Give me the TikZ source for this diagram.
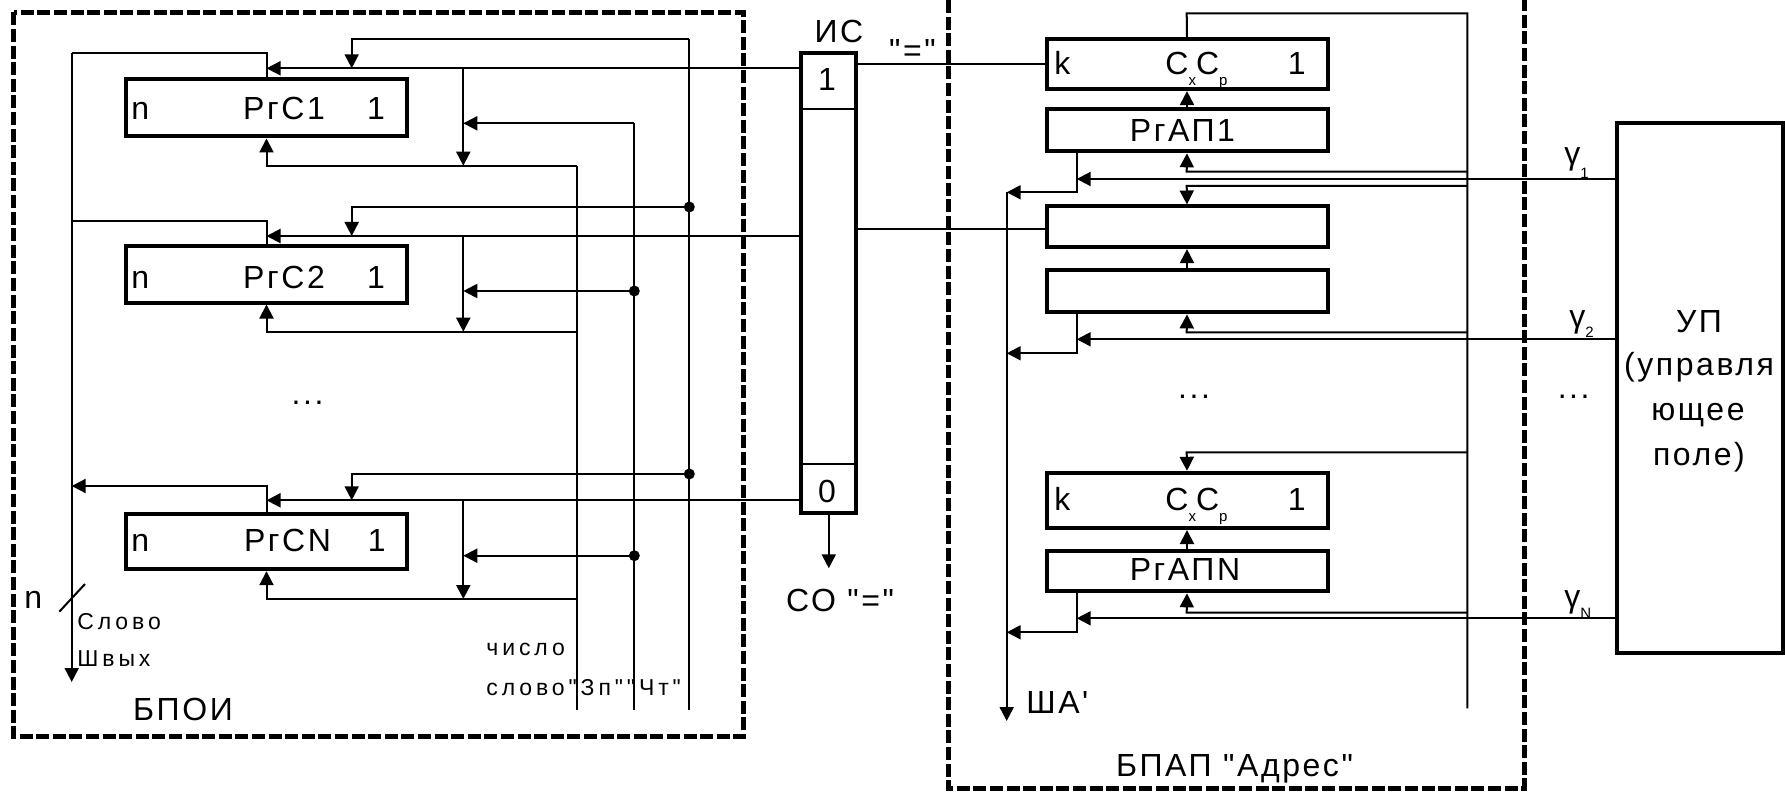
\documentclass[tikz,border=0pt]{standalone}
\usepackage{fontspec}
\setmainfont{Liberation Sans}
\newfontfamily\lblfont[LetterSpace=8]{Liberation Sans}
\newfontfamily\smlfont[LetterSpace=17]{Liberation Sans}
\usetikzlibrary{arrows.meta}

% index set low, as in the drawing
\newcommand{\lowidx}[2][5.3pt]{\raisebox{-#1}{\fontsize{7.5}{8}\selectfont #2}}

\tikzset{
  wire/.style={line width=1pt},
  blockframe/.style={line width=2.5pt,dash pattern=on 6.5pt off 1.8pt},
  reg/.style={draw,line width=2pt,inner sep=0pt,minimum width=140.5pt},
  lbl/.style={font=\fontsize{16}{19}\lblfont,inner sep=0pt},
  sml/.style={font=\fontsize{11.5}{14}\smlfont,inner sep=0pt},
  junc/.style={circle,fill,inner sep=0pt,minimum size=5.5pt},
}

\begin{document}
\begin{tikzpicture}[x=0.5pt,y=-0.5pt,>={Triangle[length=7pt,width=7pt]}]
    \useasboundingbox (0,0) rectangle (1785,792);

    % ИС between the blocks
    \node[draw,line width=2pt,inner sep=0pt,minimum width=27.5pt,minimum height=230.3pt] (is) at (828.8,283) {};
    \draw[wire] (is.west |- 0,109) -- (is.east |- 0,109);
    \draw[wire] (is.west |- 0,464) -- (is.east |- 0,464);
    \node[lbl,anchor=base] (islbl) at (839,42.7) {ИС};
    \node[lbl,anchor=base] (is1) at (827,90.7) {1};
    \node[lbl,anchor=base] (is0) at (827,502.7) {0};
    \coordinate (co) at (828.8,568.3);
    \draw[wire,->] (is.south) -- (co);
    \node[lbl,anchor=base] (colbl) at (840,611.7) {СО "="};
    \node[lbl,anchor=base] (eqlbl) at (912.5,62) {"="};

    % БПОИ
    \draw[blockframe] (13.5,12.5) rectangle (743.5,736.8);
    \node[reg,minimum height=28.5pt] (rc1) at (266.5,108) {};
    \node[reg,minimum height=28pt] (rc2) at (266.5,274.5) {};
    \node[reg,minimum height=27.5pt] (rcN) at (266.5,541.7) {};
    \node[lbl,anchor=base west] (rc1n) at (131,120) {n};
    \node[lbl,anchor=base] (rc1t) at (284,120) {РгС1};
    \node[lbl,anchor=base] (rc1o) at (376,120) {1};
    \node[lbl,anchor=base west] (rc2n) at (131,288.3) {n};
    \node[lbl,anchor=base] (rc2t) at (284,288.3) {РгС2};
    \node[lbl,anchor=base] (rc2o) at (376,288.3) {1};
    \node[lbl,anchor=base west] (rcNn) at (131,551.7) {n};
    \node[lbl,anchor=base] (rcNt) at (287.5,551.7) {РгСN};
    \node[lbl,anchor=base] (rcNo) at (376.7,551.7) {1};
    \node[lbl,anchor=base] (ldots) at (307.5,404) {...};
    \node[lbl,anchor=base] (bpoi) at (183,720) {БПОИ};

    % output bus
    \draw[wire,->] (71.7,53.3) -- (71.7,682);
    \draw[wire] (rc1.north) -- (266.5,53.3) -- (71.7,53.3);
    \draw[wire] (rc2.north) -- (266.5,221) -- (71.7,221);
    \draw[wire,->] (rcN.north) -- (266.5,486) -- (71.7,486);
    \draw[wire] (59.3,611.7) -- (85,584);
    \node[lbl,anchor=base] (busn) at (33.3,608.3) {n};
    \node[sml,anchor=base west] (busw) at (77,629.3) {Слово};
    \node[sml,anchor=base west] (busx) at (77,666) {Швых};

    % число, Зп, Чт
    \draw[wire] (576.7,710) -- (576.7,165.7);
    \draw[wire] (634.3,710) -- (634.3,123.3);
    \draw[wire] (689.3,710) -- (689.3,39.3);
    \node[sml,anchor=base west] (lnum) at (486,655) {число};
    \node[sml,anchor=base west] (lword) at (486,695) {слово"Зп""Чт"};

    % РгС1
    \draw[wire,->] (is.west |- 0,68.3) -- (266.5,68.3);
    \draw[wire,->] (689.3,39.3) -- (351.7,39.3) -- (351.7,68.3);
    \draw[wire,->] (634.3,123.3) -- (463.3,123.3);
    \draw[wire,->] (463.3,68.3) -- (463.3,165.7);
    \draw[wire,->] (576.7,165.7) -- (266.5,165.7) -- (rc1.south);

    % РгС2
    \draw[wire,->] (is.west |- 0,236) -- (266.5,236);
    \draw[wire,->] (689.3,207) -- (351.7,207) -- (351.7,236);
    \draw[wire,->] (634.3,291) -- (463.3,291);
    \draw[wire,->] (463.3,236) -- (463.3,331.7);
    \draw[wire,->] (576.7,331.7) -- (266.5,331.7) -- (rc2.south);
    \node[junc] (d1) at (689.3,207) {};
    \node[junc] (d2) at (634.3,291) {};

    % РгСN
    \draw[wire,->] (is.west |- 0,500.3) -- (266.5,500.3);
    \draw[wire,->] (689.3,474) -- (351.7,474) -- (351.7,500.3);
    \draw[wire,->] (634.3,555.7) -- (463.3,555.7);
    \draw[wire,->] (463.3,500.3) -- (463.3,599);
    \draw[wire,->] (576.7,599) -- (266.5,599) -- (rcN.south);
    \node[junc] (d3) at (689.3,474) {};
    \node[junc] (d4) at (634.3,555.7) {};

    % БПАП "Адрес"
    \draw[blockframe] (948.3,0) -- (948.3,788.3) -- (1524.2,788.3) -- (1524.2,0);
    \node[reg,minimum height=24.8pt] (k1) at (1187,64.3) {};
    \node[reg,minimum height=21.3pt] (ap1) at (1187,130) {};
    \node[reg,minimum height=20.3pt] (b1) at (1187,226.8) {};
    \node[reg,minimum height=21.2pt] (b2) at (1187,291.2) {};
    \node[reg,minimum height=27.6pt] (kN) at (1187,500.4) {};
    \node[reg,minimum height=20pt] (apN) at (1187,571.3) {};
    \node[lbl,anchor=base west] (k1k) at (1054,75) {k};
    \node[lbl,anchor=base west] (k1c) at (1165,75) {С\lowidx{х}С\lowidx{р}};
    \node[lbl,anchor=base] (k1o) at (1296.7,75) {1};
    \node[lbl,anchor=base] (ap1t) at (1182.5,141.7) {РгАП1};
    \node[lbl,anchor=base west] (kNk) at (1054,510.7) {k};
    \node[lbl,anchor=base west] (kNc) at (1165,510.7) {С\lowidx{х}С\lowidx{р}};
    \node[lbl,anchor=base] (kNo) at (1296.7,510.7) {1};
    \node[lbl,anchor=base] (apNt) at (1185,580.7) {РгАПN};
    \node[lbl,anchor=base] (rdots) at (1194,398.3) {...};
    \node[lbl,anchor=base] (bpap) at (1234.5,776) {БПАП "Адрес"};

    \draw[wire] (is.east |- k1.west) -- (k1.west);
    \draw[wire] (is.east |- 0,229.3) -- (b1.west |- 0,229.3);

    % ring line and ША'
    \draw[wire] (k1.north) -- (1186.7,13.3) -- (1467.3,13.3) -- (1467.3,708.3);
    \coordinate (sha) at (1006.7,721);
    \draw[wire,->] (1006.7,192.3) -- (sha);
    \node[lbl,anchor=base west] (shalbl) at (1026,713.3) {ША'};

    % УП
    \node[draw,line width=2pt,inner sep=0pt,minimum width=83.1pt,minimum height=265pt] (up) at (1699.9,388.3) {};
    \node[lbl,anchor=base] (up1) at (1699,332) {УП};
    \node[lbl,anchor=base] (up2) at (1699,375) {(управля};
    \node[lbl,anchor=base] (up3) at (1698,420) {ющее};
    \node[lbl,anchor=base] (up4) at (1699,465) {поле)};
    \node[lbl,anchor=base] (udots) at (1573.7,398.3) {...};

    % РгАП1 group
    \draw[wire,->] (ap1.north) -- (k1.south);
    \draw[wire,->] (1467.3,171.7) -- (1186.7,171.7) -- (ap1.south);
    \draw[wire,->] (up.west |- 0,179) -- (1076.7,179);
    \draw[wire,->] (ap1.south -| 1076.7,0) -- (1076.7,192.3) -- (1006.7,192.3);
    \draw[wire,->] (1467.3,186) -- (1186.7,186) -- (b1.north);
    \node[lbl,anchor=base west] (g1) at (1564,165) {γ\lowidx[6.5pt]{1}};

    % second group
    \draw[wire,->] (b2.north) -- (b1.south);
    \draw[wire,->] (1467.3,332.3) -- (1186.7,332.3) -- (b2.south);
    \draw[wire,->] (up.west |- 0,339.3) -- (1076.7,339.3);
    \draw[wire,->] (b2.south -| 1076.7,0) -- (1076.7,353.3) -- (1006.7,353.3);
    \node[lbl,anchor=base west] (g2) at (1569,327) {γ\lowidx[5.5pt]{2}};

    % РгАПN group
    \draw[wire,->] (1467.3,452.3) -- (1186.7,452.3) -- (kN.north);
    \draw[wire,->] (apN.north) -- (kN.south);
    \draw[wire,->] (1467.3,612.7) -- (1186.7,612.7) -- (apN.south);
    \draw[wire,->] (up.west |- 0,618.3) -- (1076.7,618.3);
    \draw[wire,->] (apN.south -| 1076.7,0) -- (1076.7,632.3) -- (1006.7,632.3);
    \node[lbl,anchor=base west] (gN) at (1564,607) {γ\lowidx[5.5pt]{N}};
\end{tikzpicture}
\end{document}
